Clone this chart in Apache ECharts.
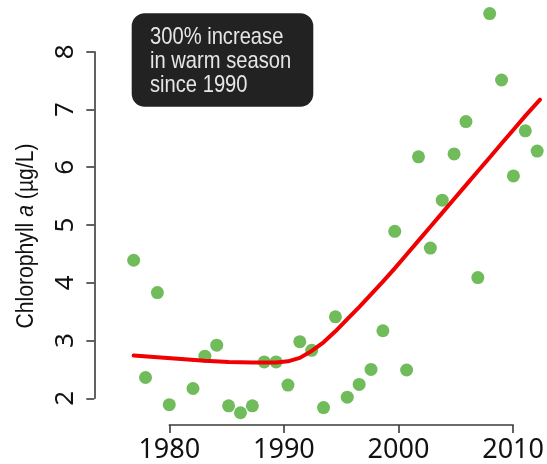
<!DOCTYPE html>
<html>
<head>
<meta charset="utf-8">
<script src="https://cdn.jsdelivr.net/npm/echarts@6/dist/echarts.min.js"></script>
<style>
  html, body { margin: 0; padding: 0; background: #fff; }
  #chart { width: 547px; height: 464px; }
</style>
</head>
<body>
<div id="chart"></div>
<script>
// ---- data ----
const years = [1977, 1978, 1979, 1980, 1982, 1983, 1984, 1985, 1986, 1987, 1988, 1989,
               1990, 1991, 1992, 1993, 1994, 1995, 1996, 1997, 1998, 1999, 2000, 2001,
               2002, 2003, 2004, 2005, 2006, 2007, 2008, 2009, 2010, 2011];
const chlorophyll = [4.39, 2.36, 3.83, 1.89, 2.17, 2.73, 2.92, 1.87, 1.75, 1.87, 2.63, 2.63,
                     2.23, 2.98, 2.83, 1.84, 3.41, 2.02, 2.24, 2.50, 3.17, 4.89, 2.49, 6.18,
                     4.60, 5.43, 6.23, 6.79, 4.09, 8.66, 7.51, 5.85, 6.63, 6.28];
const trendYears = [1977, 1979, 1981, 1983, 1985, 1987, 1989, 1990, 1991, 1992, 1993, 1994,
                    1995, 1996, 1997, 1998, 1999, 2000, 2001, 2002, 2003, 2004, 2005, 2006,
                    2007, 2008, 2009, 2010, 2011.24];
const trendValues = [2.74, 2.71, 2.68, 2.65, 2.63, 2.62, 2.62, 2.64, 2.70, 2.82, 2.97, 3.16,
                     3.37, 3.58, 3.80, 4.02, 4.25, 4.49, 4.73, 4.97, 5.21, 5.45, 5.69, 5.93,
                     6.17, 6.41, 6.65, 6.89, 7.17];
const xTickLabels = ['1980', '1990', '2000', '2010'];
const yTickLabels = ['2', '3', '4', '5', '6', '7', '8'];
const annotationLines = ['300% increase', 'in warm season', 'since 1990'];

const FONT = '"Liberation Sans", sans-serif';
const COND = '"Noto Sans", sans-serif';

const chart = echarts.init(document.getElementById('chart'), null, { renderer: 'canvas' });

const option = {
  animation: false,
  backgroundColor: '#ffffff',
  textStyle: { fontFamily: FONT },
  grid: [
    { left: 121.8, right: 3.9, top: 5.5, height: 421.7, containLabel: false },
    { left: 169.3, width: 356, top: 400, height: 26.7, containLabel: false },
    { left: 94.3, width: 20, top: 51.7, height: 346.6, containLabel: false }
  ],
  xAxis: [
    { gridIndex: 0, type: 'value', min: 1976, max: 2011.5, show: false },
    {
      gridIndex: 1, type: 'value', min: 1980, max: 2010, interval: 10,
      position: 'bottom',
      axisLine: { show: true, lineStyle: { color: '#3a3a3a', width: 1.6 } },
      axisTick: { show: true, length: 8, inside: false, lineStyle: { color: '#3a3a3a', width: 1.6 } },
      splitLine: { show: false },
      axisLabel: {
        margin: 12, fontSize: 27, color: '#111',
        fontFamily: COND, fontWeight: 'condensed',
        formatter: v => xTickLabels[Math.round((v - 1980) / 10)]
      }
    },
    { gridIndex: 2, type: 'value', show: false }
  ],
  yAxis: [
    { gridIndex: 0, type: 'value', min: 1.5, max: 8.8, show: false },
    { gridIndex: 1, type: 'value', show: false },
    {
      gridIndex: 2, type: 'value', min: 2, max: 8, interval: 1,
      position: 'left',
      axisLine: { show: true, lineStyle: { color: '#3a3a3a', width: 1.6 } },
      axisTick: { show: true, length: 8, inside: false, lineStyle: { color: '#3a3a3a', width: 1.6 } },
      splitLine: { show: false },
      axisLabel: {
        margin: 16, fontSize: 26, color: '#111',
        fontFamily: COND, fontWeight: 'condensed', rotate: 90,
        formatter: v => yTickLabels[Math.round(v - 2)]
      }
    }
  ],
  series: [
    {
      type: 'scatter',
      xAxisIndex: 0, yAxisIndex: 0,
      symbol: 'circle',
      symbolSize: 13,
      itemStyle: { color: '#4cab32' },
      clip: false,
      z: 2,
      data: years.map((y, i) => [y, chlorophyll[i]])
    },
    {
      type: 'line',
      xAxisIndex: 0, yAxisIndex: 0,
      smooth: false,
      showSymbol: false,
      symbol: 'none',
      lineStyle: { color: '#f00000', width: 4, join: 'round', cap: 'round' },
      clip: false,
      z: 3,
      data: trendYears.map((y, i) => [y, trendValues[i]])
    }
  ],
  graphic: [
    {
      type: 'text',
      x: 27, y: 236,
      rotation: Math.PI / 2,
      scaleX: 0.92,
      style: {
        text: '{n|Chlorophyll }{i|a}{n| (µg/L)}',
        align: 'center',
        verticalAlign: 'middle',
        fill: '#111',
        rich: {
          n: { fontFamily: FONT, fontSize: 23, fill: '#111' },
          i: { fontFamily: FONT, fontSize: 23, fontStyle: 'italic', fill: '#111' }
        }
      }
    },
    {
      type: 'rect',
      shape: { x: 131.7, y: 13.3, width: 181.6, height: 93.4, r: 13 },
      style: { fill: '#222222' }
    },
    {
      type: 'text',
      x: 150, y: 25,
      scaleX: 0.84,
      style: {
        text: annotationLines.join('\n'),
        fontFamily: FONT,
        fontSize: 24,
        lineHeight: 24,
        fill: '#e6e6e6',
        align: 'left',
        verticalAlign: 'top'
      }
    }
  ]
};

chart.setOption(option);
</script>
</body>
</html>
